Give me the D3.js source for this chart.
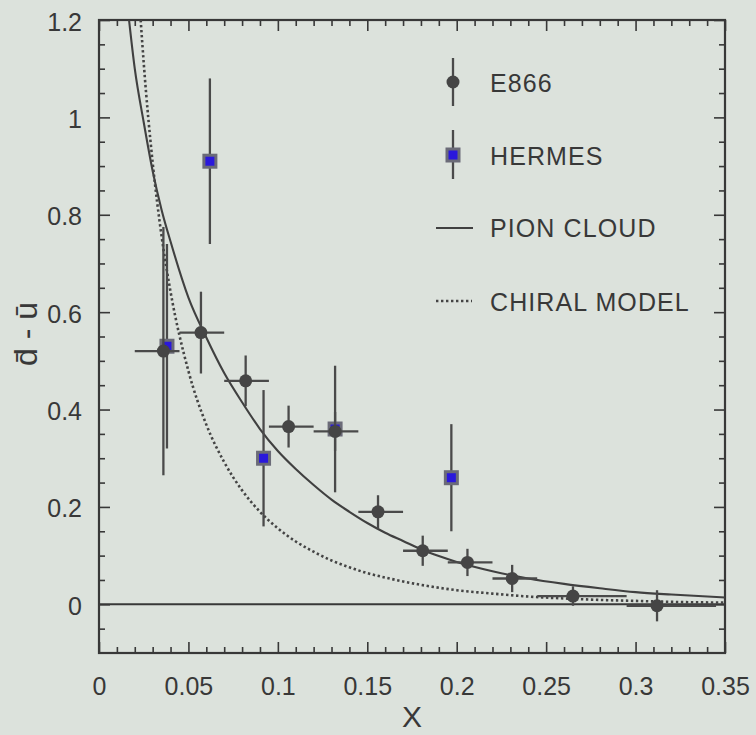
<!DOCTYPE html>
<html>
<head>
<meta charset="utf-8">
<script src="https://cdn.jsdelivr.net/npm/d3@7"></script>
<style>
  html, body { margin: 0; padding: 0; background: #dce2dc; }
  svg { display: block; }
  text { font-family: "Liberation Sans", Arial, Helvetica, sans-serif; }
</style>
</head>
<body>
<svg id="chart" width="756" height="735"></svg>
<script>
// ---- E866 measurements (x, d̄-ū, stat. error, x-bin edges) ----
const e866X    = [0.036, 0.057, 0.082, 0.106, 0.132, 0.156, 0.181, 0.206, 0.231, 0.265, 0.312];
const e866Y    = [0.52, 0.558, 0.459, 0.365, 0.355, 0.19, 0.11, 0.086, 0.053, 0.017, -0.003];
const e866Err  = [0.255, 0.084, 0.052, 0.043, 0.04, 0.034, 0.031, 0.028, 0.028, 0.02, 0.032];
const e866XLo  = [0.020, 0.045, 0.070, 0.095, 0.120, 0.145, 0.170, 0.195, 0.220, 0.245, 0.295];
const e866XHi  = [0.045, 0.070, 0.095, 0.120, 0.145, 0.170, 0.195, 0.220, 0.245, 0.295, 0.345];

// ---- HERMES measurements ----
const hermesX   = [0.038, 0.062, 0.092, 0.132, 0.197];
const hermesY   = [0.53, 0.91, 0.30, 0.36, 0.26];
const hermesErr = [0.21, 0.17, 0.14, 0.13, 0.11];

// ---- Model curves (sampled) ----
const pionX = [0.0165, 0.02, 0.025, 0.03, 0.035, 0.04, 0.05, 0.06, 0.07, 0.08, 0.09, 0.10, 0.11, 0.12,
               0.13, 0.14, 0.15, 0.16, 0.17, 0.18, 0.19, 0.20, 0.22, 0.24, 0.26, 0.28, 0.30, 0.32, 0.35];
const pionY = [1.21, 1.10, 0.99, 0.89, 0.81, 0.745, 0.63, 0.548, 0.475, 0.415, 0.36, 0.315, 0.278, 0.245,
               0.215, 0.19, 0.167, 0.147, 0.13, 0.113, 0.099, 0.087, 0.068, 0.053, 0.042, 0.033, 0.025, 0.02, 0.014];
const chiralX = [0.0233, 0.025, 0.03, 0.035, 0.04, 0.05, 0.06, 0.07, 0.08, 0.09, 0.10, 0.11, 0.12, 0.13,
                 0.14, 0.15, 0.16, 0.18, 0.20, 0.22, 0.24, 0.26, 0.28, 0.30, 0.32, 0.35];
const chiralY = [1.2, 1.112, 0.907, 0.756, 0.642, 0.479, 0.369, 0.292, 0.234, 0.19, 0.156, 0.129, 0.108, 0.09,
                 0.076, 0.064, 0.055, 0.04, 0.029, 0.022, 0.016, 0.012, 0.009, 0.007, 0.005, 0.0035];

// ---- Axis ticks and labels ----
const xMajor = [0, 0.05, 0.1, 0.15, 0.2, 0.25, 0.3, 0.35];
const xTickLabels = ["0", "0.05", "0.1", "0.15", "0.2", "0.25", "0.3", "0.35"];
const yMajor = [0, 0.2, 0.4, 0.6, 0.8, 1.0, 1.2];
const yTickLabels = ["0", "0.2", "0.4", "0.6", "0.8", "1", "1.2"];
const xMinor = d3.range(1, 35).filter(i => i % 5 !== 0).map(i => i / 100);
const yMinor = d3.range(-1, 24).filter(i => i % 4 !== 0).map(i => i / 20);

const legendNames = ["E866", "HERMES", "PION CLOUD", "CHIRAL MODEL"];

// ---- Layout ----
const box = { left: 99, right: 725, top: 20, bottom: 653 };
const ink = "#383838";
const svg = d3.select("#chart");

const x = d3.scaleLinear().domain([0, 0.35]).range([box.left, box.right]);
const y = d3.scaleLinear().domain([-0.1, 1.2]).range([box.bottom, box.top]);

function styleAxis(g) {
  g.select(".domain").remove();
  g.attr("color", ink).attr("font-size", 25)
   .attr("font-family", '"Liberation Sans", Arial, sans-serif');
  g.selectAll(".tick line").attr("stroke-width", 1.6);
}

// bottom axis with labels
svg.append("g").attr("transform", `translate(0,${box.bottom})`)
  .call(d3.axisBottom(x).tickValues(xMajor).tickSize(-11).tickPadding(24)
        .tickFormat((d, i) => xTickLabels[i]))
  .call(styleAxis);
svg.append("g").attr("transform", `translate(0,${box.bottom})`)
  .call(d3.axisBottom(x).tickValues(xMinor).tickSize(-6).tickFormat(""))
  .call(styleAxis);
// top axis
svg.append("g").attr("transform", `translate(0,${box.top})`)
  .call(d3.axisTop(x).tickValues(xMajor).tickSize(-11).tickFormat(""))
  .call(styleAxis);
svg.append("g").attr("transform", `translate(0,${box.top})`)
  .call(d3.axisTop(x).tickValues(xMinor).tickSize(-6).tickFormat(""))
  .call(styleAxis);
// left axis with labels
svg.append("g").attr("transform", `translate(${box.left},0)`)
  .call(d3.axisLeft(y).tickValues(yMajor).tickSize(-11).tickPadding(17)
        .tickFormat((d, i) => yTickLabels[i]))
  .call(styleAxis)
  .call(g => g.selectAll("text").attr("dy", "0.4em"));
svg.append("g").attr("transform", `translate(${box.left},0)`)
  .call(d3.axisLeft(y).tickValues(yMinor).tickSize(-6).tickFormat(""))
  .call(styleAxis);
// right axis
svg.append("g").attr("transform", `translate(${box.right},0)`)
  .call(d3.axisRight(y).tickValues(yMajor).tickSize(-11).tickFormat(""))
  .call(styleAxis);
svg.append("g").attr("transform", `translate(${box.right},0)`)
  .call(d3.axisRight(y).tickValues(yMinor).tickSize(-6).tickFormat(""))
  .call(styleAxis);

// frame
svg.append("rect")
  .attr("x", box.left).attr("y", box.top)
  .attr("width", box.right - box.left).attr("height", box.bottom - box.top)
  .attr("fill", "none").attr("stroke", ink).attr("stroke-width", 2.2);

// zero line
svg.append("line")
  .attr("x1", x(0)).attr("x2", x(0.35)).attr("y1", y(0)).attr("y2", y(0))
  .attr("stroke", ink).attr("stroke-width", 2);

// clip for model curves
svg.append("clipPath").attr("id", "plotclip").append("rect")
  .attr("x", box.left).attr("y", box.top)
  .attr("width", box.right - box.left).attr("height", box.bottom - box.top);

const line = d3.line().x(d => x(d[0])).y(d => y(d[1])).curve(d3.curveMonotoneX);

svg.append("path")
  .datum(pionX.map((v, i) => [v, pionY[i]]))
  .attr("clip-path", "url(#plotclip)")
  .attr("d", line).attr("fill", "none")
  .attr("stroke", "#404040").attr("stroke-width", 2.1);

svg.append("path")
  .datum(chiralX.map((v, i) => [v, chiralY[i]]))
  .attr("clip-path", "url(#plotclip)")
  .attr("d", line).attr("fill", "none")
  .attr("stroke", "#444").attr("stroke-width", 2.6)
  .attr("stroke-dasharray", "2.4,2.6");

// HERMES points: vertical error bars and squares
const hermes = hermesX.map((v, i) => ({ x: v, y: hermesY[i], e: hermesErr[i] }));
const hg = svg.append("g");
hg.selectAll("line").data(hermes).join("line")
  .attr("x1", d => x(d.x)).attr("x2", d => x(d.x))
  .attr("y1", d => y(d.y + d.e)).attr("y2", d => y(d.y - d.e))
  .attr("stroke", "#4a4a4a").attr("stroke-width", 2.3);
hg.selectAll("rect").data(hermes).join("rect")
  .attr("x", d => x(d.x) - 6).attr("y", d => y(d.y) - 6)
  .attr("width", 12).attr("height", 12)
  .attr("fill", "#2a18dc").attr("stroke", "#6b6b78").attr("stroke-width", 3);

// E866 points: x and y error bars and filled circles
const e866 = e866X.map((v, i) => ({ x: v, y: e866Y[i], e: e866Err[i], lo: e866XLo[i], hi: e866XHi[i] }));
const eg = svg.append("g");
eg.selectAll("line.v").data(e866).join("line").attr("class", "v")
  .attr("x1", d => x(d.x)).attr("x2", d => x(d.x))
  .attr("y1", d => y(d.y + d.e)).attr("y2", d => y(d.y - d.e))
  .attr("stroke", "#4a4a4a").attr("stroke-width", 2.3);
eg.selectAll("line.h").data(e866).join("line").attr("class", "h")
  .attr("x1", d => x(d.lo)).attr("x2", d => x(d.hi))
  .attr("y1", d => y(d.y)).attr("y2", d => y(d.y))
  .attr("stroke", "#4a4a4a").attr("stroke-width", 2.3);
eg.selectAll("circle").data(e866).join("circle")
  .attr("cx", d => x(d.x)).attr("cy", d => y(d.y)).attr("r", 6.5)
  .attr("fill", "#454545");

// legend
const lg = svg.append("g");
const lx = 453, tx = 490;
lg.append("line").attr("x1", lx).attr("x2", lx).attr("y1", 58).attr("y2", 106)
  .attr("stroke", "#4a4a4a").attr("stroke-width", 2.3);
lg.append("circle").attr("cx", lx).attr("cy", 82).attr("r", 6.5).attr("fill", "#454545");
lg.append("line").attr("x1", lx).attr("x2", lx).attr("y1", 130).attr("y2", 179)
  .attr("stroke", "#4a4a4a").attr("stroke-width", 2.3);
lg.append("rect").attr("x", lx - 6).attr("y", 149).attr("width", 12).attr("height", 12)
  .attr("fill", "#2a18dc").attr("stroke", "#6b6b78").attr("stroke-width", 3);
lg.append("line").attr("x1", 436).attr("x2", 473).attr("y1", 228).attr("y2", 228)
  .attr("stroke", "#404040").attr("stroke-width", 2.1);
lg.append("line").attr("x1", 436).attr("x2", 472).attr("y1", 301).attr("y2", 301)
  .attr("stroke", "#444").attr("stroke-width", 2.6).attr("stroke-dasharray", "2.4,2.6");
const legendBase = [92, 164.5, 237, 311];
lg.selectAll("text").data(legendNames).join("text")
  .attr("x", tx).attr("y", (d, i) => legendBase[i])
  .attr("font-size", 25).attr("letter-spacing", 1.1).attr("fill", ink).text(d => d);

// axis titles
svg.append("text")
  .attr("x", (box.left + box.right) / 2).attr("y", 727)
  .attr("text-anchor", "middle").attr("font-size", 30).attr("fill", ink)
  .text("X");
svg.append("text")
  .attr("transform", "translate(37,334) rotate(-90)")
  .attr("text-anchor", "middle").attr("font-size", 32).attr("fill", ink)
  .text("d\u0304 - \u016B");
</script>
</body>
</html>
